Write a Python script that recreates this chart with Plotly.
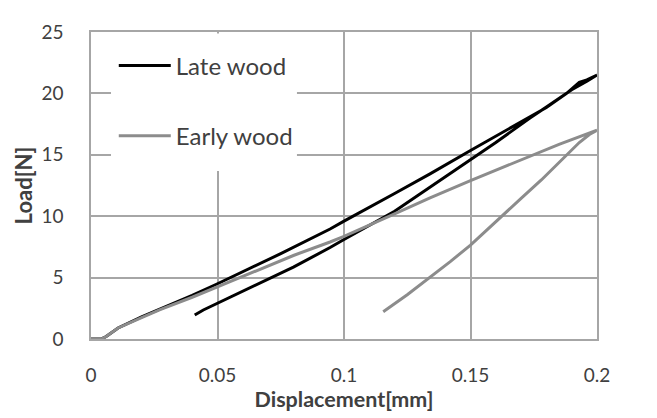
import plotly.graph_objects as go

# ---- data (displacement in mm, load in N) ----
late_load_x = [0, 0.004, 0.006, 0.0107, 0.02, 0.0273, 0.04, 0.05, 0.0628, 0.075, 0.0945, 0.1,
               0.12, 0.134, 0.15, 0.165, 0.1735, 0.18, 0.188, 0.193, 0.196, 0.2]
late_load_y = [0, 0, 0.2, 0.9, 1.8, 2.44, 3.55, 4.5, 5.75, 6.95, 8.96, 9.6,
               11.85, 13.45, 15.35, 17.1, 18.05, 18.85, 20.0, 20.9, 21.1, 21.5]
late_unload_x = [0.2, 0.196, 0.19, 0.18, 0.1735, 0.16, 0.15, 0.134, 0.12, 0.1, 0.0945,
                 0.08, 0.0708, 0.06, 0.05, 0.0444, 0.041]
late_unload_y = [21.5, 21.0, 20.3, 18.9, 18.0, 16.0, 14.6, 12.3, 10.4, 8.1, 7.45,
                 5.85, 4.94, 3.85, 2.9, 2.36, 1.95]

early_load_x = [0, 0.004, 0.006, 0.0107, 0.02, 0.0273, 0.04, 0.05, 0.0628, 0.08, 0.0945, 0.1,
                0.118, 0.134, 0.15, 0.17, 0.185, 0.2]
early_load_y = [0, 0, 0.2, 0.9, 1.75, 2.4, 3.4, 4.25, 5.35, 6.8, 7.9, 8.35,
                10.0, 11.5, 12.9, 14.6, 15.85, 17.0]
early_unload_x = [0.2, 0.197, 0.193, 0.186, 0.178, 0.17, 0.1617, 0.15, 0.142, 0.134, 0.125, 0.1155]
early_unload_y = [17.0, 16.65, 16.0, 14.55, 12.95, 11.45, 9.9, 7.65, 6.3, 5.0, 3.6, 2.22]

series_names = ["Late wood", "Early wood"]
x_ticks = [0, 0.05, 0.1, 0.15, 0.2]
y_ticks = [0, 5, 10, 15, 20, 25]

GRID = "#A6A6A6"
TEXT = "#404040"
FONT = "Lato"

fig = go.Figure()
fig.add_trace(go.Scatter(x=late_load_x + late_unload_x, y=late_load_y + late_unload_y,
                         mode="lines", name=series_names[0], legendgroup="a",
                         line=dict(color="#000000", width=3)))
fig.add_trace(go.Scatter(x=early_load_x + early_unload_x, y=early_load_y + early_unload_y,
                         mode="lines", name=series_names[1], legendgroup="b",
                         line=dict(color="#8C8C8C", width=3)))

# white box behind the legend hiding gridlines
fig.add_shape(type="rect", xref="paper", yref="paper", x0=0.0395, x1=0.407, y0=0.547, y1=0.995,
              fillcolor="white", line=dict(width=0), layer="above")

fig.update_layout(
    width=657, height=418,
    margin=dict(l=91, r=60, t=32, b=79),
    paper_bgcolor="white", plot_bgcolor="white",
    font=dict(family=FONT, color=TEXT, size=19),
    showlegend=True,
    legend=dict(x=0.045, y=0.963, xanchor="left", yanchor="top", bgcolor="rgba(0,0,0,0)",
                font=dict(size=24, family=FONT, color=TEXT), tracegroupgap=36, itemwidth=52),
    xaxis=dict(range=[0, 0.2], tickvals=x_ticks, ticktext=[str(v) for v in x_ticks],
               showgrid=True, gridcolor=GRID, gridwidth=1.5, zeroline=False,
               showline=True, mirror=True, linecolor=GRID, linewidth=1.5,
               ticks="", ticklabelstandoff=18, automargin=False,
               title=dict(text="<b>Displacement[mm]</b>", font=dict(size=21.5, family=FONT, color=TEXT), standoff=6)),
    yaxis=dict(range=[0, 25], tickvals=y_ticks,
               showgrid=True, gridcolor=GRID, gridwidth=1.5, zeroline=False,
               showline=True, mirror=True, linecolor=GRID, linewidth=1.5,
               ticks="", ticklabelstandoff=22, automargin=False,
               title=dict(text="<b>Load[N]</b>", font=dict(size=22, family=FONT, color=TEXT), standoff=3)),
)

fig.write_html("out.html")
